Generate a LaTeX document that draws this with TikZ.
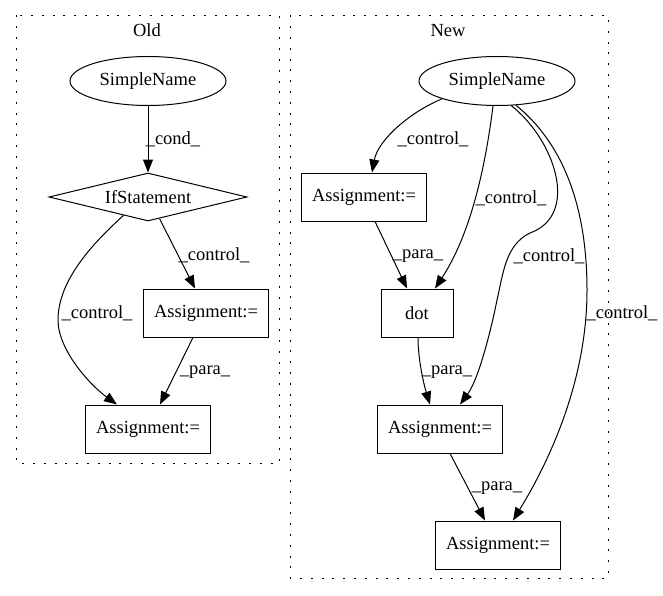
\documentclass[tikz,border=0pt]{standalone}
\usepackage{fontspec}
\setmainfont{Liberation Serif}
\usetikzlibrary{shapes.geometric,arrows.meta}
\begin{document}
\begin{tikzpicture}[x=1pt,y=-1pt,line width=1pt,
  every node/.style={font=\fontsize{18.5}{20}\selectfont},
  box/.style={draw,rectangle,minimum width=125pt,minimum height=48pt,inner sep=0pt},
  ell/.style={draw,ellipse,minimum width=156pt,minimum height=49pt,inner sep=0pt},
  dia/.style={draw,diamond,aspect=4.1,minimum width=198pt,minimum height=48pt,inner sep=0pt},
  lbl/.style={inner sep=0pt},
  cluster/.style={draw,line width=1pt,dash pattern=on 2pt off 8.8pt},
  edge/.style={draw,line width=1pt,-{Triangle[length=13pt,width=10pt]}}]
\useasboundingbox (0,0) rectangle (663,596);
\path[cluster] (16,15.5) rectangle (279,463);
\path[cluster] (290,15.5) rectangle (608,578);
\node[lbl] (oldt) at (147,30) {Old};
\node[lbl] (newt) at (448,31) {New};
% Old
\node[ell] (sn1) at (148,81) {SimpleName};
\node[dia] (if1) at (148,197) {IfStatement};
\node[box] (a1) at (206,313) {Assignment:=};
\node[box] (a2) at (148,429) {Assignment:=};
% New
\node[ell] (sn2) at (497,81) {SimpleName};
\node[box] (b1) at (364,197) {Assignment:=};
\node[box,minimum width=72pt] (dt) at (417,313) {dot};
\node[box] (c1) at (440,429) {Assignment:=};
\node[box] (d1) at (498,545) {Assignment:=};
% Old edges
\path[edge] (sn1) -- (if1);
\path[edge] (if1.-62) -- ([xshift=-11pt]a1.north);
\path[edge] (if1.-143) .. controls (85,250) and (58,285) .. (58,320)
  .. controls (58,350) and (90,385) .. ([xshift=-31pt]a2.north);
\path[edge] ([xshift=-13pt]a1.south) -- ([xshift=12pt]a2.north);
% New edges
\path[edge] (sn2.198) .. controls (410,112) and (378,140) .. ([xshift=8pt]b1.north);
\path[edge] ([xshift=-4pt]sn2.south) .. controls (485,170) and (470,235) .. ([xshift=18pt]dt.north);
\path[edge] ([xshift=11pt]b1.south) -- ([xshift=-10pt]dt.north);
\path[edge] (sn2.-60) .. controls (555,140) and (580,215) .. (530,233)
  .. controls (505,245) and (503,275) .. (497,300)
  .. controls (490,335) and (478,380) .. ([xshift=20pt]c1.north);
\path[edge] (sn2.-52) .. controls (565,145) and (587,210) .. (587,290)
  .. controls (587,380) and (550,460) .. ([xshift=15pt]d1.north);
\path[edge] ([xshift=1pt]dt.south) .. controls (418,360) and (424,385) .. ([xshift=-10pt]c1.north);
\path[edge] ([xshift=10pt]c1.south) -- ([xshift=-13pt]d1.north);
% labels
\node[lbl] (l1) at (173,139) {\_cond\_};
\node[lbl] (l2) at (214,255) {\_control\_};
\node[lbl] (l3) at (97,313) {\_control\_};
\node[lbl] (l4) at (205,372) {\_para\_};
\node[lbl] (l5) at (433,139) {\_control\_};
\node[lbl] (l6) at (511,198) {\_control\_};
\node[lbl] (l7) at (418,256) {\_para\_};
\node[lbl] (l8) at (549,256) {\_control\_};
\node[lbl] (l9) at (622,313) {\_control\_};
\node[lbl] (l10) at (447,372) {\_para\_};
\node[lbl] (l11) at (497,488) {\_para\_};
\end{tikzpicture}
\end{document}
